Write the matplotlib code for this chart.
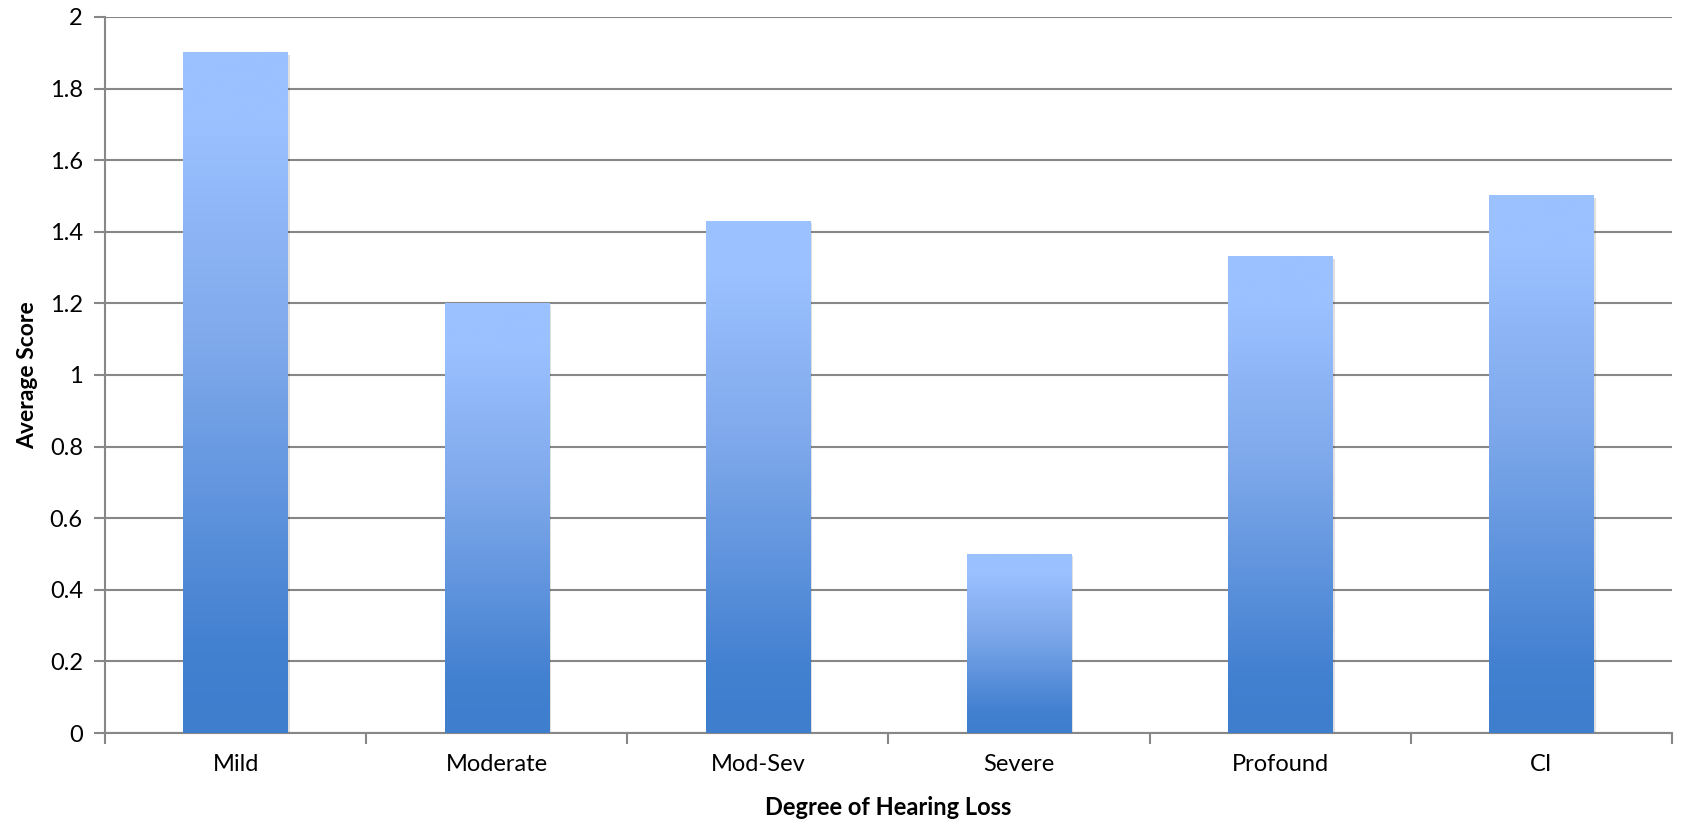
import numpy as np
import matplotlib
matplotlib.use("Agg")
import matplotlib.pyplot as plt
from matplotlib.colors import LinearSegmentedColormap

categories = ["Mild", "Moderate", "Mod-Sev", "Severe", "Profound", "CI"]
scores = [1.9, 1.2, 1.43, 0.5, 1.33, 1.5]
yticks = [0, 0.2, 0.4, 0.6, 0.8, 1, 1.2, 1.4, 1.6, 1.8, 2]
ytick_labels = ["0", "0.2", "0.4", "0.6", "0.8", "1", "1.2", "1.4", "1.6", "1.8", "2"]

plt.rcParams['font.family'] = ['Lato', 'DejaVu Sans']

fig = plt.figure(figsize=(16.83, 8.25), dpi=100)
ax = fig.add_axes([105 / 1683, 1 - 733 / 825, (1672 - 105) / 1683, (733 - 17) / 825])

# gradient: dark blue at bottom, light blue at top of each bar
cmap = LinearSegmentedColormap.from_list(
    "bar", [(0.0, "#3e7ecd"), (0.12, "#4280d0"), (0.55, "#7ca7ea"), (0.9, "#9bc1ff"), (1.0, "#9bc1ff")])
grad = np.linspace(0, 1, 256).reshape(-1, 1)

width = 0.4
ax.set_xlim(-0.5, len(categories) - 0.5)
ax.set_ylim(0, 2)

for i, v in enumerate(scores):
    # soft shadow
    ax.add_patch(plt.Rectangle((i - width / 2 + 0.008, -0.005), width, v, color="#000000",
                               alpha=0.12, lw=0, zorder=2))
    ax.imshow(grad, cmap=cmap, origin="lower", aspect="auto",
              extent=(i - width / 2, i + width / 2, 0, v), zorder=3)

ax.set_xlim(-0.5, len(categories) - 0.5)
ax.set_ylim(0, 2)

ax.set_yticks(yticks)
ax.set_yticklabels(ytick_labels)
ax.yaxis.grid(True, color="#878787", lw=1.5, zorder=1)
ax.set_axisbelow(True)

ax.set_xticks(range(len(categories)))
ax.set_xticklabels(categories)
ax.set_xticks(np.arange(-0.5, len(categories)), minor=True)
ax.tick_params(axis="x", which="major", length=0, pad=15, labelsize=17)
ax.tick_params(axis="x", which="minor", length=8, width=1.5, color="#878787")
ax.tick_params(axis="y", length=8, width=1.5, color="#878787", pad=8, labelsize=17)

for s in ["top", "right"]:
    ax.spines[s].set_visible(False)
for s in ["left", "bottom"]:
    ax.spines[s].set_color("#878787")
    ax.spines[s].set_linewidth(1.5)

ax.set_xlabel("Degree of Hearing Loss", fontsize=17, fontweight="bold", labelpad=15)
ax.set_ylabel("Average Score", fontsize=16.5, fontweight="bold", labelpad=8)

fig.savefig("out.png", dpi=100)
